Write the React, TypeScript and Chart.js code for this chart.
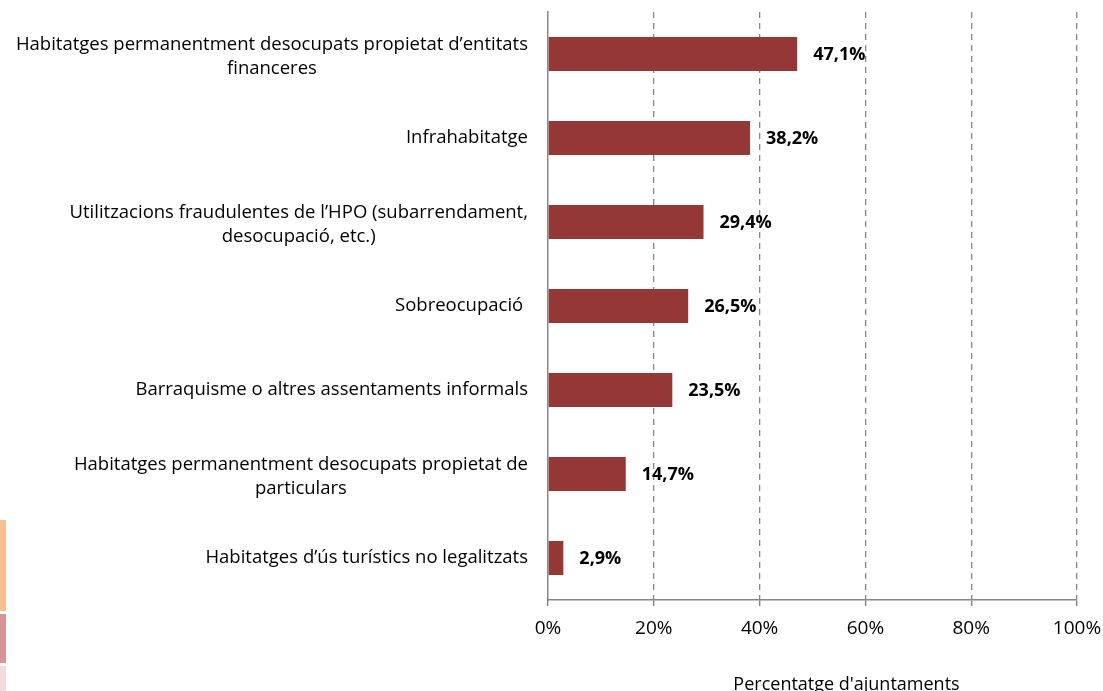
import React, { useEffect, useRef } from "react";
import { Chart, registerables } from "chart.js";

Chart.register(...registerables);

const categories: string[][] = [
  ["Habitatges permanentment desocupats propietat d\u2019entitats", "financeres"],
  ["Infrahabitatge"],
  ["Utilitzacions fraudulentes de l\u2019HPO (subarrendament,", "desocupaci\u00f3, etc.)"],
  ["Sobreocupaci\u00f3 "],
  ["Barraquisme o altres assentaments informals"],
  ["Habitatges permanentment desocupats propietat de", "particulars"],
  ["Habitatges d\u2019\u00fas tur\u00edstics no legalitzats"],
];
const values: number[] = [47.1, 38.2, 29.4, 26.5, 23.5, 14.7, 2.9];
const xTicks: number[] = [0, 20, 40, 60, 80, 100];
const axisTitle = "Percentatge d'ajuntaments";

const FONT = "'Open Sans', sans-serif";
const BAR_COLOR = "#953735";
const GRID = "#868686";

const fmt = (v: number) => v.toFixed(1).replace(".", ",") + "%";

const yLabelPlugin = {
  id: "yLabels",
  afterDraw(chart: any) {
    const ctx = chart.ctx;
    const ys = chart.scales.y;
    ctx.save();
    ctx.font = `18.5px ${FONT}`;
    ctx.fillStyle = "#000";
    ctx.textAlign = "center";
    ctx.textBaseline = "middle";
    const lineH = 24;
    const rightEdge = ys.right - 20;
    categories.forEach((lines, i) => {
      const y = ys.getPixelForTick(i);
      const maxW = Math.max(...lines.map((l) => ctx.measureText(l).width));
      const cx = rightEdge - maxW / 2;
      const n = lines.length;
      const yOff = n > 1 ? 3 : 0;
      lines.forEach((l, j) => {
        ctx.fillText(l, cx, y + yOff + (j - (n - 1) / 2) * lineH);
      });
    });
    ctx.restore();
  },
};

const dataLabelPlugin = {
  id: "dataLabels",
  afterDatasetsDraw(chart: any) {
    const ctx = chart.ctx;
    const meta = chart.getDatasetMeta(0);
    ctx.save();
    ctx.font = `bold 18px ${FONT}`;
    ctx.fillStyle = "#000";
    ctx.textAlign = "left";
    ctx.textBaseline = "middle";
    meta.data.forEach((bar: any, i: number) => {
      ctx.fillText(fmt(values[i]), bar.x + 16, bar.y + 1);
    });
    ctx.restore();
  },
};

const titlePlugin = {
  id: "xTitle",
  afterDraw(chart: any) {
    const ctx = chart.ctx;
    const { left, right } = chart.chartArea;
    ctx.save();
    ctx.font = `18px ${FONT}`;
    ctx.fillStyle = "#000";
    ctx.textAlign = "center";
    ctx.textBaseline = "middle";
    ctx.fillText(axisTitle, (left + right) / 2 + 34, chart.height - 6);
    ctx.restore();
  },
};

export default function App() {
  const ref = useRef<HTMLCanvasElement>(null);
  useEffect(() => {
    if (!ref.current) return;
    const chart = new Chart(ref.current, {
      type: "bar",
      data: {
        labels: categories.map((c) => c.join(" ")),
        datasets: [
          {
            data: values,
            backgroundColor: BAR_COLOR,
            borderWidth: 0,
            barPercentage: 0.405,
            categoryPercentage: 1,
          },
        ],
      },
      options: {
        indexAxis: "y",
        responsive: false,
        animation: false,
        layout: { padding: { top: 12, right: 26, left: 0, bottom: 0 } },
        plugins: {
          legend: { display: false },
          tooltip: { enabled: false },
          title: { display: false },
        },
        scales: {
          x: {
            type: "linear",
            min: 0,
            max: 100,
            afterBuildTicks: (scale: any) => {
              scale.ticks = xTicks.map((v) => ({ value: v }));
            },
            afterFit: (scale: any) => {
              scale.height = 91;
              scale.paddingRight = 0;
              scale.paddingLeft = 0;
            },
            ticks: {
              callback: (v: any) => v + "%",
              font: { family: FONT, size: 19 },
              color: "#000",
              padding: 11,
              maxRotation: 0,
            },
            grid: {
              display: true,
              color: (c: any) => (c.index === 0 ? "rgba(0,0,0,0)" : GRID),
              lineWidth: 1.3,
              drawTicks: true,
              tickLength: 6,
              tickColor: GRID,
              tickWidth: 1.5,
            },
            border: { display: true, color: GRID, width: 1.5, dash: [6, 5] },
          },
          y: {
            type: "category",
            afterFit: (scale: any) => {
              scale.width = 548;
            },
            ticks: { display: false },
            grid: { display: false, drawTicks: false },
            border: { display: true, color: GRID, width: 1.5 },
          },
        },
      },
      plugins: [yLabelPlugin, dataLabelPlugin, titlePlugin],
    });
    return () => chart.destroy();
  }, []);

  return (
    <div style={{ position: "fixed", left: 0, top: 0, width: 1103, height: 691, background: "#fff" }}>
      <canvas ref={ref} width={1103} height={691} style={{ display: "block" }} />
      <div style={{ position: "absolute", left: 0, top: 520, width: 6, height: 91, background: "#FAC08F" }} />
      <div style={{ position: "absolute", left: 0, top: 614, width: 6, height: 49, background: "#D99594" }} />
      <div style={{ position: "absolute", left: 0, top: 666, width: 6, height: 25, background: "#F2DCDB" }} />
    </div>
  );
}
